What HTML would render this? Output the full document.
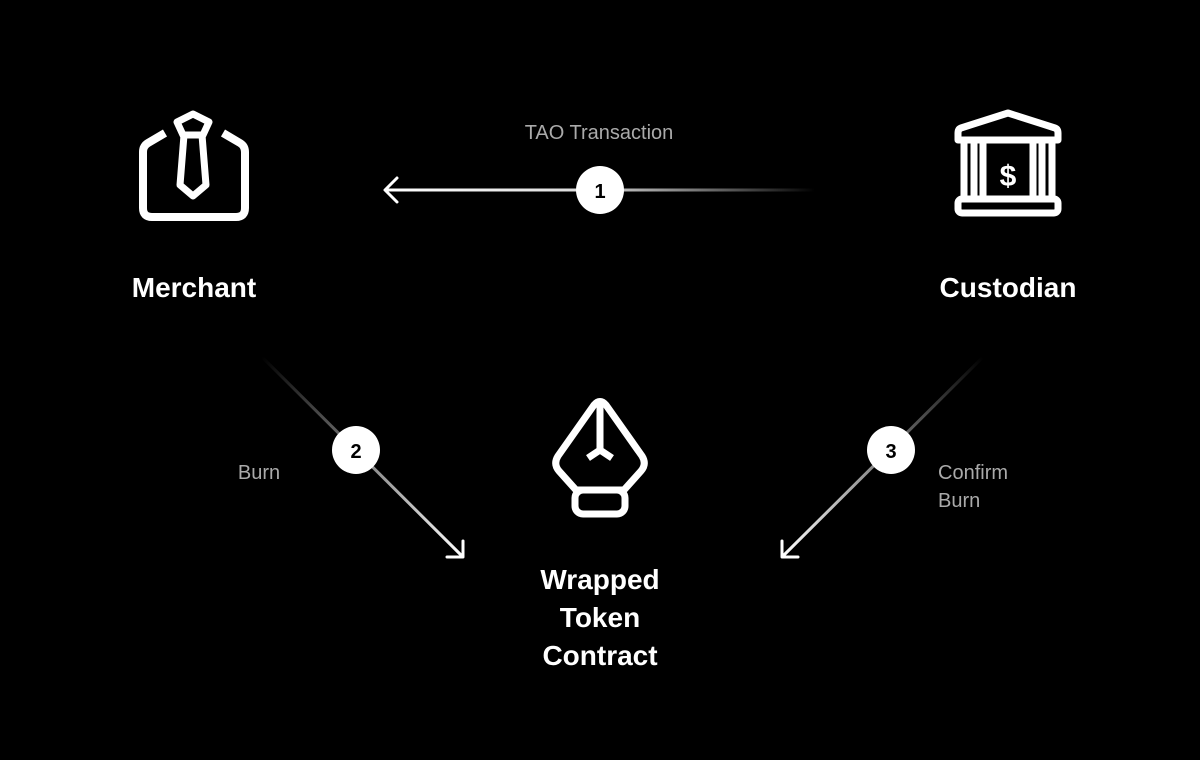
<!DOCTYPE html>
<html><head><meta charset="utf-8"><style>
html,body{margin:0;padding:0;background:#000;}
svg{display:block}
text{font-family:"Liberation Sans",sans-serif;}
</style></head><body>
<svg width="1200" height="760" viewBox="0 0 1200 760" xmlns="http://www.w3.org/2000/svg">
<defs>
<linearGradient id="g1" gradientUnits="userSpaceOnUse" x1="385" y1="190" x2="815" y2="190">
<stop offset="0" stop-color="#fff"/><stop offset="0.45" stop-color="#ddd"/><stop offset="1" stop-color="#fff" stop-opacity="0"/></linearGradient>
<linearGradient id="g2" gradientUnits="userSpaceOnUse" x1="262" y1="357" x2="463" y2="557">
<stop offset="0" stop-color="#fff" stop-opacity="0"/><stop offset="1" stop-color="#fff"/></linearGradient>
<linearGradient id="g3" gradientUnits="userSpaceOnUse" x1="983" y1="357" x2="782" y2="557">
<stop offset="0" stop-color="#fff" stop-opacity="0"/><stop offset="1" stop-color="#fff"/></linearGradient>
</defs>
<rect width="1200" height="760" fill="#000"/>

<!-- Merchant icon -->
<g fill="none" stroke="#fff" stroke-width="8" stroke-linejoin="round" stroke-linecap="butt">
<path d="M165 133 L148 143 Q143 146 143 152 L143 208 Q143 217 152 217 L236 217 Q245 217 245 208 L245 152 Q245 146 240 143 L223 133"/>
<path d="M193 114 L209 122 L203 135 L183 135 L177 122 Z" stroke-width="7"/>
<path d="M184 135 L180 185 L193 196 L206 185 L202 135" stroke-width="7"/>
</g>

<!-- Custodian icon -->
<g fill="none" stroke="#fff" stroke-width="7" stroke-linejoin="round">
<path d="M1008 113 L1055 128 Q1058 129 1058 133 L1058 140 L958 140 L958 133 Q958 129 961 128 Z"/>
<rect x="958" y="199" width="100" height="14" rx="4"/>
<rect x="964" y="140" width="10" height="59"/>
<rect x="983" y="140" width="50" height="59"/>
<rect x="1042" y="140" width="10" height="59"/>
</g>
<text x="1008" y="186" font-size="30" font-weight="bold" fill="#fff" text-anchor="middle">$</text>

<!-- Pen icon -->
<g fill="none" stroke="#fff" stroke-width="7" stroke-linejoin="round" stroke-linecap="butt">
<path d="M594 405 Q600 398 606 405 L642 456 Q647 464 641 471 L624 490 L576 490 L559 471 Q553 464 558 456 Z"/>
<rect x="575" y="490" width="50" height="24" rx="8"/>
<path d="M600 402 V450 M588 458 L600 450 L612 458"/>
</g>

<!-- Arrow 1 -->
<line x1="387" y1="190" x2="815" y2="190" stroke="url(#g1)" stroke-width="3"/>
<path d="M397 178 L385 190 L397 202" fill="none" stroke="#fff" stroke-width="3" stroke-linecap="round" stroke-linejoin="round"/>
<circle cx="600" cy="190" r="24" fill="#fff"/>
<text x="600" y="198" font-size="20" font-weight="bold" fill="#000" text-anchor="middle">1</text>
<text x="599" y="139" font-size="20" fill="#aaa" text-anchor="middle">TAO Transaction</text>

<!-- Arrow 2 -->
<line x1="262" y1="357" x2="462" y2="556" stroke="url(#g2)" stroke-width="3"/>
<path d="M447 557 L463 557 L463 541" fill="none" stroke="#fff" stroke-width="3" stroke-linecap="round" stroke-linejoin="round"/>
<circle cx="356" cy="450" r="24" fill="#fff"/>
<text x="356" y="458" font-size="20" font-weight="bold" fill="#000" text-anchor="middle">2</text>
<text x="259" y="479" font-size="20" fill="#aaa" text-anchor="middle">Burn</text>

<!-- Arrow 3 -->
<line x1="983" y1="357" x2="783" y2="556" stroke="url(#g3)" stroke-width="3"/>
<path d="M798 557 L782 557 L782 541" fill="none" stroke="#fff" stroke-width="3" stroke-linecap="round" stroke-linejoin="round"/>
<circle cx="891" cy="450" r="24" fill="#fff"/>
<text x="891" y="458" font-size="20" font-weight="bold" fill="#000" text-anchor="middle">3</text>
<text x="938" y="479" font-size="20" fill="#aaa">Confirm</text>
<text x="938" y="507" font-size="20" fill="#aaa">Burn</text>

<!-- Labels -->
<text x="194" y="297" font-size="28" font-weight="bold" fill="#fff" text-anchor="middle">Merchant</text>
<text x="1008" y="297" font-size="28" font-weight="bold" fill="#fff" text-anchor="middle">Custodian</text>
<text x="600" y="589" font-size="28" font-weight="bold" fill="#fff" text-anchor="middle">Wrapped</text>
<text x="600" y="627" font-size="28" font-weight="bold" fill="#fff" text-anchor="middle">Token</text>
<text x="600" y="665" font-size="28" font-weight="bold" fill="#fff" text-anchor="middle">Contract</text>
</svg>
</body></html>
